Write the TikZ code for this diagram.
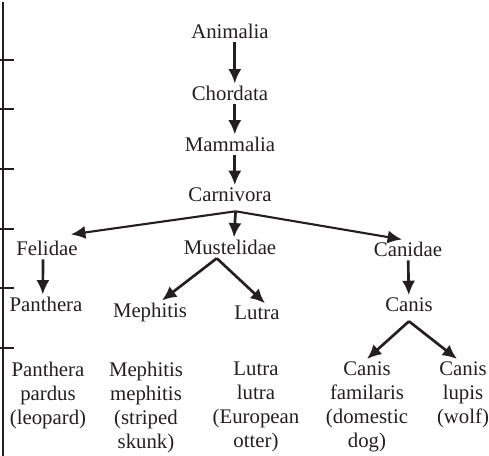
\documentclass[tikz,border=0pt]{standalone}
\usepackage{fontspec}
\setmainfont{Liberation Serif}
\usetikzlibrary{arrows.meta}
\definecolor{ink}{HTML}{231F20}
\begin{document}
\begin{tikzpicture}[
  taxon/.style={anchor=base, inner sep=2pt, text=ink, font=\fontsize{14.8}{17.1}\selectfont},
  species/.style={anchor=north, inner sep=2pt, align=center, text=ink, font=\fontsize{14.8}{17.1}\selectfont},
  arr/.style={draw=ink, line width=1.9pt, -{Latex[length=0.36cm,width=0.33cm]}},
  rule/.style={draw=ink, line width=2.1pt}]
\useasboundingbox (0,0) rectangle (12.225,11.4);
\draw [rule] (0.075,0)--(0.075,11.35);
\foreach \y in {9.9,8.675,7.175,5.675,4.2,2.7}
  \draw [rule] (0,\y)--(0.35,\y);
\node [taxon] (animalia) at (5.75,10.425) {Animalia};
\node [taxon] (chordata) at (5.75,8.875) {Chordata};
\node [taxon] (mammalia) at (5.75,7.6) {Mammalia};
\node [taxon] (carnivora) at (5.75,6.35) {Carnivora};
\node [taxon] (felidae) at (1.175,5.0) {Felidae};
\node [taxon] (mustelidae) at (5.75,5.025) {Mustelidae};
\node [taxon] (canidae) at (10.2,4.975) {Canidae};
\node [taxon] (panthera) at (1.15,3.6) {Panthera};
\node [taxon] (mephitis) at (3.75,3.45) {Mephitis};
\node [taxon] (lutra) at (6.425,3.4) {Lutra};
\node [taxon] (canis) at (10.225,3.6) {Canis};
\node [species] (pardus) at (1.2,2.425) {Panthera\\pardus\\(leopard)};
\node [species] (skunk) at (3.65,2.425) {Mephitis\\mephitis\\(striped\\skunk)};
\node [species] (otter) at (6.4,2.425) {Lutra\\lutra\\(European\\otter)};
\node [species] (dog) at (9.175,2.425) {Canis\\familaris\\(domestic\\dog)};
\node [species] (wolf) at (11.575,2.425) {Canis\\lupis\\(wolf)};
\draw [arr] ([xshift=0.12cm]animalia.south)--([xshift=0.12cm]chordata.north);
\draw [arr] ([xshift=0.12cm]chordata.south)--([xshift=0.12cm]mammalia.north);
\draw [arr] ([xshift=0.12cm]mammalia.south)--([xshift=0.12cm]carnivora.north);
\coordinate (split) at ([xshift=0.14cm,yshift=-0.15cm]carnivora.south);
\draw [arr, line width=1.5pt] (split)--([xshift=0.6cm,yshift=0.1cm]felidae.north);
\draw [arr] (split)--([xshift=0.1cm]mustelidae.north);
\draw [arr, line width=1.5pt] (split)--([xshift=-0.15cm]canidae.north);
\draw [arr] ([xshift=-0.1cm]felidae.south)--([xshift=-0.08cm]panthera.north);
\coordinate (msplit) at ([xshift=-0.33cm]mustelidae.south);
\draw [arr] (msplit)--([xshift=0.3cm]mephitis.north);
\draw [arr] (msplit)--([xshift=0.2cm]lutra.north);
\draw [arr] (canidae)--(canis);
\coordinate (csplit) at ([yshift=-0.15cm]canis.south);
\draw [arr] (csplit)--(dog.north);
\draw [arr] (csplit)--([xshift=-0.15cm]wolf.north);
\end{tikzpicture}
\end{document}
